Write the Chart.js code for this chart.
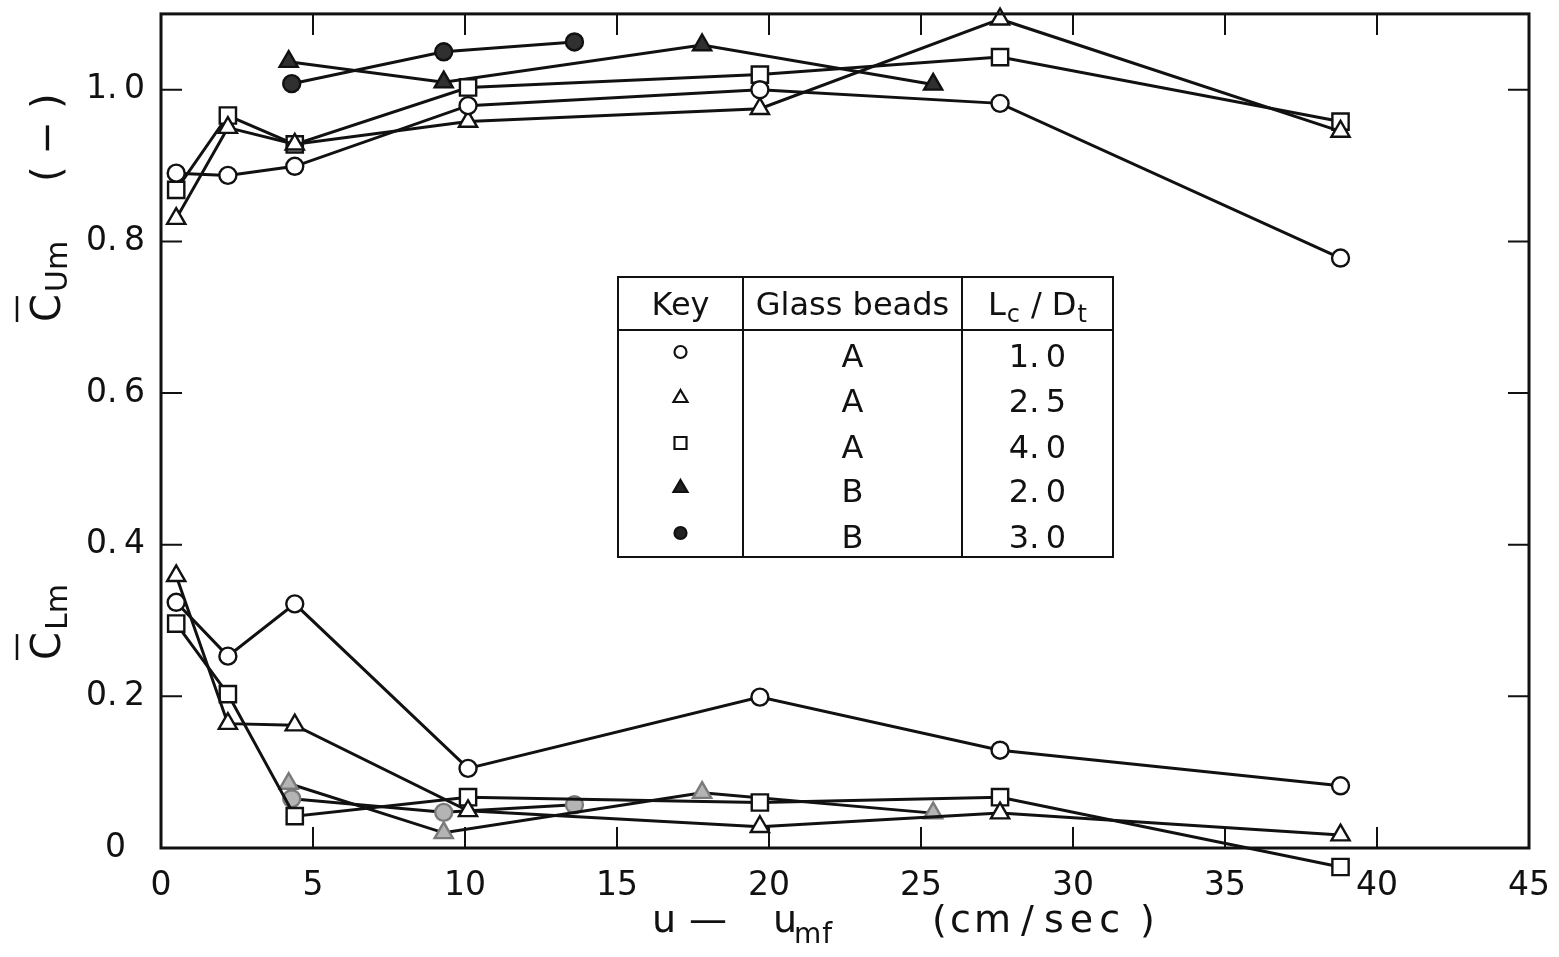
<!DOCTYPE html>
<html>
<head>
<meta charset="utf-8">
<script src="https://cdn.jsdelivr.net/npm/chart.js@4.4.0/dist/chart.umd.min.js"></script>
<style>
  html, body { margin: 0; padding: 0; background: #fff; }
  #wrap { width: 1559px; height: 957px; position: relative; }
</style>
</head>
<body>
<div id="wrap"><canvas id="chart"></canvas></div>
<script>
// u - umf (cm/sec) at which each run was taken
const uA = [0.5, 2.2, 4.4, 10.1, 19.7, 27.6, 38.8];
const uB20 = [4.2, 9.3, 17.8, 25.4];
const uB30 = [4.3, 9.3, 13.6];

// mean concentration, upper part of the bed (C_Um)
const cUmA10 = [0.890, 0.887, 0.899, 0.979, 1.000, 0.982, 0.778];
const cUmA25 = [0.830, 0.950, 0.928, 0.958, 0.975, 1.093, 0.945];
const cUmA40 = [0.868, 0.966, 0.928, 1.003, 1.020, 1.043, 0.958];
const cUmB20 = [1.037, 1.010, 1.059, 1.007];
const cUmB30 = [1.008, 1.050, 1.063];

// mean concentration, lower part of the bed (C_Lm)
const cLmA10 = [0.324, 0.253, 0.322, 0.105, 0.199, 0.129, 0.082];
const cLmA25 = [0.359, 0.164, 0.162, 0.049, 0.028, 0.046, 0.017];
const cLmA40 = [0.296, 0.203, 0.042, 0.067, 0.060, 0.067, -0.025];
const cLmB20 = [0.085, 0.020, 0.073, 0.046];
const cLmB30 = [0.065, 0.047, 0.057];

// key table columns
const keyBeads = ['A', 'A', 'A', 'B', 'B'];
const keyRatio = ['1.0', '2.5', '4.0', '2.0', '3.0'];

// axis ticks
const xTickVals = [0, 5, 10, 15, 20, 25, 30, 35, 40, 45];
const yTickVals = [0, 0.2, 0.4, 0.6, 0.8, 1.0];

const FONT = "'DejaVu Sans', sans-serif";
const INK = '#111';

const series = [
  { u: uA,   upper: cUmA10, lower: cLmA10, shape: 'circle',   filled: false },
  { u: uA,   upper: cUmA25, lower: cLmA25, shape: 'triangle', filled: false },
  { u: uA,   upper: cUmA40, lower: cLmA40, shape: 'rect',     filled: false },
  { u: uB20, upper: cUmB20, lower: cLmB20, shape: 'triangle', filled: true },
  { u: uB30, upper: cUmB30, lower: cLmB30, shape: 'circle',   filled: true }
];
const radius = { circle: 8.5, triangle: 10.5, rect: 11.5 };

const datasets = [];
series.forEach(s => {
  ['upper', 'lower'].forEach(part => {
    const lowerFilled = s.filled && part === 'lower';
    datasets.push({
      data: s.u.map((u, i) => ({ x: u, y: s[part][i] })),
      borderColor: INK,
      borderWidth: 3,
      pointStyle: s.shape,
      pointRadius: radius[s.shape],
      pointBorderWidth: 2.4,
      pointBorderColor: lowerFilled ? '#7a7a7a' : INK,
      pointBackgroundColor: s.filled ? (lowerFilled ? '#b4b4b4' : '#303030') : '#fff',
      tension: 0,
      fill: false,
      clip: false
    });
  });
});

function drawKeySymbol(ctx, shape, filled, x, y) {
  ctx.save();
  ctx.lineWidth = 2.2;
  ctx.strokeStyle = INK;
  ctx.fillStyle = filled ? '#222' : '#fff';
  ctx.beginPath();
  if (shape === 'circle') {
    ctx.arc(x, y, 6, 0, Math.PI * 2);
  } else if (shape === 'triangle') {
    ctx.moveTo(x, y - 7);
    ctx.lineTo(x + 7, y + 5);
    ctx.lineTo(x - 7, y + 5);
    ctx.closePath();
  } else {
    ctx.rect(x - 6, y - 6, 12, 12);
  }
  ctx.fill();
  ctx.stroke();
  ctx.restore();
}

// points that sit just outside the axis range (a slightly negative C_Lm)
// are skipped by the line controller, so draw those elements again here
const outsidePoints = {
  id: 'outsidePoints',
  afterDatasetsDraw(chart) {
    const a = chart.chartArea;
    const full = { left: 0, top: 0, right: chart.width, bottom: chart.height };
    chart.data.datasets.forEach((d, i) => {
      chart.getDatasetMeta(i).data.forEach(pt => {
        if (pt.y > a.bottom || pt.y < a.top) pt.draw(chart.ctx, full);
      });
    });
  }
};

const framePlugin = {
  id: 'frame',
  afterDraw(chart) {
    const { ctx, chartArea: a } = chart;
    const xs = chart.scales.x, ys = chart.scales.y;
    ctx.save();

    // plot frame with inward ticks on every side
    ctx.strokeStyle = INK;
    ctx.lineWidth = 3;
    ctx.strokeRect(a.left, a.top, a.right - a.left, a.bottom - a.top);
    ctx.lineWidth = 2;
    const len = 21;
    ctx.beginPath();
    xs.ticks.forEach(t => {
      if (t.value <= xs.min || t.value >= xs.max) return;
      const px = xs.getPixelForValue(t.value);
      ctx.moveTo(px, a.bottom); ctx.lineTo(px, a.bottom - len);
      ctx.moveTo(px, a.top); ctx.lineTo(px, a.top + len);
    });
    ys.ticks.forEach(t => {
      if (t.value <= ys.min || t.value >= ys.max) return;
      const py = ys.getPixelForValue(t.value);
      ctx.moveTo(a.left, py); ctx.lineTo(a.left + len, py);
      ctx.moveTo(a.right, py); ctx.lineTo(a.right - len, py);
    });
    ctx.stroke();

    ctx.fillStyle = INK;
    ctx.textBaseline = 'alphabetic';
    ctx.textAlign = 'left';
    const put = (txt, x, y, size, spacing) => {
      ctx.font = size + 'px ' + FONT;
      ctx.letterSpacing = (spacing || 0) + 'px';
      ctx.fillText(txt, x, y);
      const w = ctx.measureText(txt).width;
      ctx.letterSpacing = '0px';
      return w;
    };

    // x title: u - umf (cm/sec)
    put('u', 652, 932, 38);
    put('\u2014', 689, 932, 38);
    put('u', 773, 932, 38);
    put('mf', 794, 943, 28, 1);
    put('(', 932, 932, 38);
    put('cm', 950, 932, 38, 3);
    put('/', 1021, 932, 38);
    put('sec', 1044, 932, 38, 6);
    put(')', 1140, 932, 38);

    // y titles, rotated: C_Um (-) and C_Lm, each with an overbar
    const yTitle = (main, sub, x0, y0, tail) => {
      ctx.save();
      ctx.translate(x0, y0);
      ctx.rotate(-Math.PI / 2);
      const w = put(main, 0, 0, 40);
      ctx.lineWidth = 2.5;
      ctx.beginPath();
      ctx.moveTo(0, -43); ctx.lineTo(w - 2, -43);
      ctx.stroke();
      put(sub, w + 2, 7, 30);
      if (tail) put(tail, 140, 0, 40, 2);
      ctx.restore();
    };
    yTitle('C', 'Um', 60, 322, '(\u2009\u2212\u2009)');
    yTitle('C', 'Lm', 60, 660, null);

    // key table
    const L = 618, R = 1113, T = 277, B = 557, c1 = 743, c2 = 962, hd = 330;
    ctx.fillStyle = '#fff';
    ctx.fillRect(L, T, R - L, B - T);
    ctx.lineWidth = 2;
    ctx.strokeStyle = INK;
    ctx.strokeRect(L, T, R - L, B - T);
    ctx.beginPath();
    ctx.moveTo(c1, T); ctx.lineTo(c1, B);
    ctx.moveTo(c2, T); ctx.lineTo(c2, B);
    ctx.moveTo(L, hd); ctx.lineTo(R, hd);
    ctx.stroke();

    ctx.fillStyle = INK;
    ctx.textAlign = 'center';
    put('Key', (L + c1) / 2, 315, 32);
    put('Glass beads', (c1 + c2) / 2, 315, 32);
    ctx.textAlign = 'left';
    let hx = 988;
    hx += put('L', hx, 315, 32);
    hx += put('c', hx + 1, 322, 24) + 12;
    hx += put('/', hx, 315, 32) + 10;
    hx += put('D', hx, 315, 32);
    put('t', hx + 1, 322, 24);

    const rowY = [367, 412, 458, 502, 548];
    ctx.textAlign = 'center';
    series.forEach((s, i) => {
      drawKeySymbol(ctx, s.shape, s.filled, (L + c1) / 2, rowY[i] - 15);
      put(keyBeads[i], (c1 + c2) / 2, rowY[i], 32);
      put(keyRatio[i].replace('.', '.\u2009'), (c2 + R) / 2, rowY[i], 32);
    });

    ctx.restore();
  }
};

new Chart(document.getElementById('chart'), {
  type: 'line',
  data: { datasets },
  options: {
    responsive: true,
    maintainAspectRatio: false,
    animation: false,
    layout: { padding: { top: 12, right: 30, left: 0, bottom: 0 } },
    plugins: { legend: { display: false }, tooltip: { enabled: false } },
    scales: {
      x: {
        type: 'linear',
        min: 0,
        max: 45,
        grid: { display: false, drawTicks: false },
        border: { display: false },
        afterBuildTicks: s => { s.ticks = xTickVals.map(v => ({ value: v })); },
        afterFit: s => { s.height = 109; s.paddingLeft = 0; s.paddingRight = 0; },
        ticks: {
          font: { family: FONT, size: 33 },
          color: INK,
          padding: 19,
          maxRotation: 0,
          autoSkip: false
        }
      },
      y: {
        type: 'linear',
        min: 0,
        max: 1.1,
        grid: { display: false, drawTicks: false },
        border: { display: false },
        afterBuildTicks: s => { s.ticks = yTickVals.map(v => ({ value: v })); },
        afterFit: s => { s.width = 161; s.paddingTop = 0; s.paddingBottom = 0; },
        ticks: {
          font: { family: FONT, size: 33 },
          color: INK,
          padding: 16,
          crossAlign: 'center',
          autoSkip: false,
          callback: v => v === 0 ? '0' : v.toFixed(1).replace('.', '.\u2009')
        }
      }
    }
  },
  plugins: [outsidePoints, framePlugin]
});
</script>
</body>
</html>
